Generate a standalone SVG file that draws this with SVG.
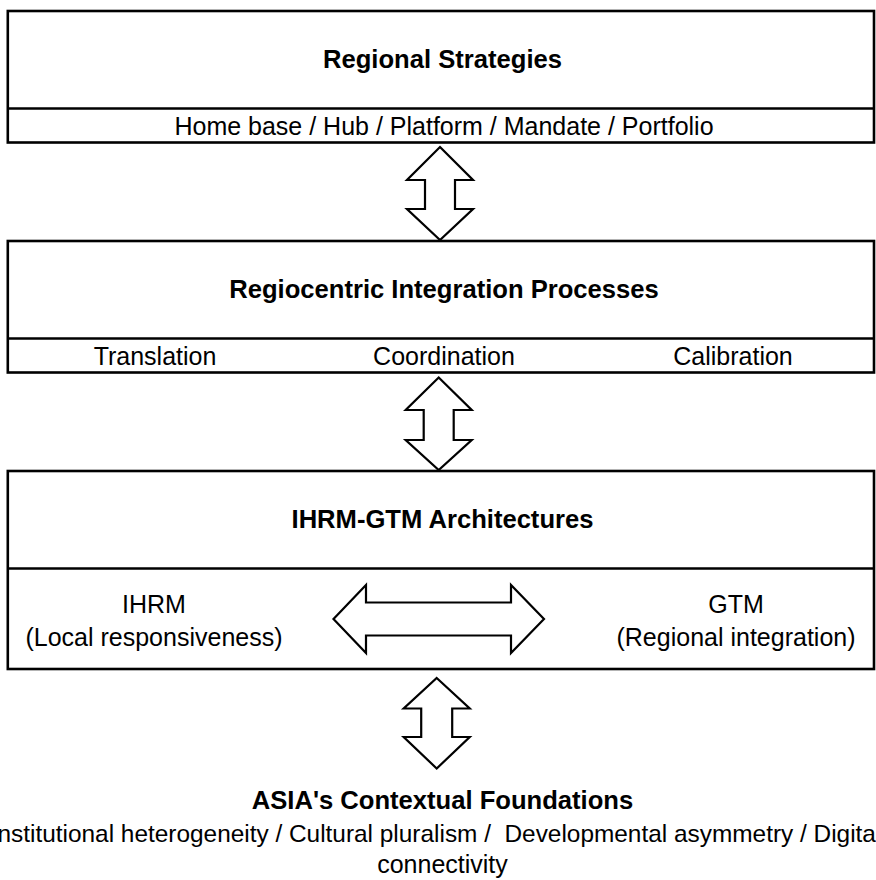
<svg xmlns="http://www.w3.org/2000/svg" width="876" height="880" viewBox="0 0 876 880">
  <style>
    .box { fill: #ffffff; stroke: #000000; stroke-width: 2.6; }
    .div { stroke: #000000; stroke-width: 2.6; fill: none; }
    .arrow { fill: #ffffff; stroke: #000000; stroke-width: 2.2; stroke-linejoin: miter; }
    text { font-family: "Liberation Sans", Arial, sans-serif; font-size: 25px; fill: #000000; text-anchor: middle; }
    .title { font-weight: bold; font-size: 25.6px; }
    .wide { font-size: 24.4px; }
  </style>
  <rect width="876" height="880" fill="#ffffff"/>

  <!-- Layer 1: regional strategies -->
  <g id="regional-strategies">
    <rect class="box" x="7.8" y="11" width="866.2" height="131.5"/>
    <line class="div" x1="7.8" y1="108.5" x2="874" y2="108.5"/>
    <text class="title" x="442.5" y="68">Regional Strategies</text>
    <text x="444" y="135">Home base / Hub / Platform / Mandate / Portfolio</text>
  </g>

  <!-- Layer 2: integration processes -->
  <g id="integration-processes">
    <rect class="box" x="7.8" y="241" width="866.2" height="131.5"/>
    <line class="div" x1="7.8" y1="338.5" x2="874" y2="338.5"/>
    <text class="title" x="444" y="298">Regiocentric Integration Processes</text>
    <text x="155" y="365">Translation</text>
    <text x="444" y="365">Coordination</text>
    <text x="733" y="365">Calibration</text>
  </g>

  <!-- Layer 3: IHRM-GTM architectures -->
  <g id="architectures">
    <rect class="box" x="7.8" y="471" width="866.2" height="198"/>
    <line class="div" x1="7.8" y1="568.5" x2="874" y2="568.5"/>
    <text class="title" x="442.5" y="528">IHRM-GTM Architectures</text>
    <text x="154" y="613">IHRM</text>
    <text x="154" y="646">(Local responsiveness)</text>
    <text x="736" y="613">GTM</text>
    <text x="736" y="646">(Regional integration)</text>
  </g>

  <!-- Base: contextual foundations -->
  <g id="foundations">
    <text class="title" x="442.5" y="809">ASIA's Contextual Foundations</text>
    <text class="wide" x="436" y="842" xml:space="preserve">Institutional heterogeneity / Cultural pluralism /  Developmental asymmetry / Digital</text>
    <text x="442.5" y="873">connectivity</text>
  </g>

  <!-- Double-headed block arrows -->
  <g id="connectors">
    <polygon class="arrow" points="440,147 473,180 455,180 455,209 473,209 440,240 407,209 425,209 425,180 407,180"/>
    <polygon class="arrow" points="438.7,377.5 471.7,410 453.7,410 453.7,440 471.7,440 438.7,470 405.7,440 423.7,440 423.7,410 405.7,410"/>
    <polygon class="arrow" points="436.7,678 469.7,708.5 452.2,708.5 452.2,737 469.7,737 436.7,768.5 403.7,737 421.2,737 421.2,708.5 403.7,708.5"/>
    <polygon class="arrow" points="333.5,619 366,585 366,602.5 511,602.5 511,585 544,619 511,653 511,635.5 366,635.5 366,653"/>
  </g>
</svg>
